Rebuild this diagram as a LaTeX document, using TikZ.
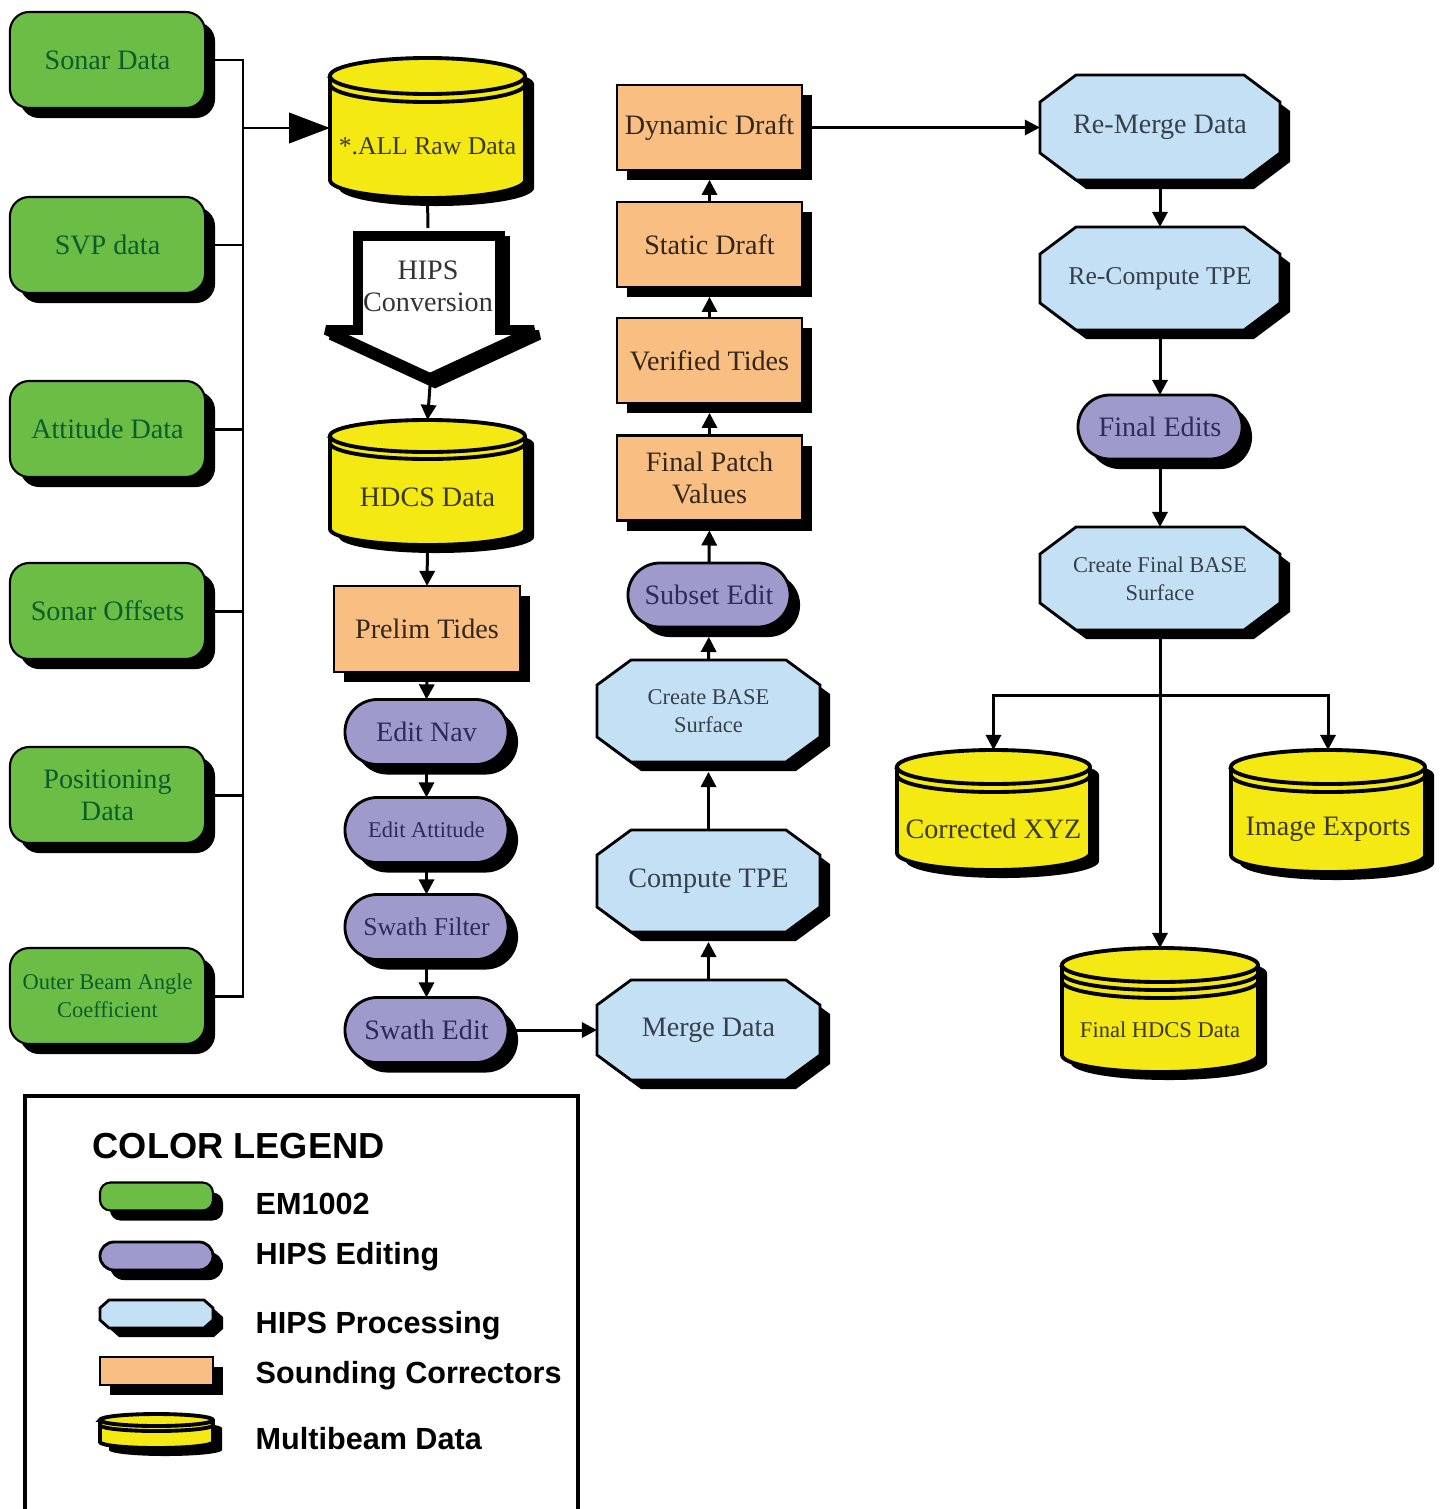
\documentclass[tikz,border=0pt]{standalone}
\usepackage{fontspec}
\setmainfont{Liberation Serif}
\newfontfamily\legfont{Liberation Sans}
\usetikzlibrary{arrows.meta,shapes.misc,shadows,backgrounds}
\definecolor{cgreen}{HTML}{6BBD45}
\definecolor{tgreen}{HTML}{0B5E2C}
\definecolor{cpurple}{HTML}{9E9BCC}
\definecolor{tpurple}{HTML}{2C2B5C}
\definecolor{cblue}{HTML}{C4E0F4}
\definecolor{tblue}{HTML}{36404C}
\definecolor{corange}{HTML}{F8BE82}
\definecolor{torange}{HTML}{33261A}
\definecolor{cyellow}{HTML}{F4E912}
\definecolor{tyellow}{HTML}{3B3913}
\def\PX{0.28453pt}
\newcommand{\fbase}{\fontsize{8}{9.1}\selectfont}
\newcommand{\fmed}{\fontsize{7.3}{8.6}\selectfont}
\newcommand{\fsmall}{\fontsize{6.4}{8}\selectfont}
\newcommand{\octpath}[4]{(-#1+#3,-#2) -- (#1-#3,-#2) -- (#1,-#2+#4) -- (#1,#2-#4) -- (#1-#3,#2) -- (-#1+#3,#2) -- (-#1,#2-#4) -- (-#1,-#2+#4) -- cycle}
\newcommand{\octbox}[9][]{%
  \begin{scope}[shift={(#3,#4)}]
    \begin{scope}[shift={(10,9)}]\fill[black] \octpath{#5}{#6}{#7}{#8};\end{scope}
    \filldraw[fill=cblue,draw=black,line width=0.8pt,line join=miter] \octpath{#5}{#6}{#7}{#8};
  \end{scope}
  \node[octnode,minimum width=2*#5*\PX,minimum height=2*#6*\PX,#1] (#2) at (#3,#4) {#9};}
\newcommand{\cylpath}[3]{(-#1,-#2+#3) -- (-#1,#2-#3) arc[start angle=180,end angle=360,x radius=#1*\PX,y radius=#3*\PX] -- (#1,-#2+#3) arc[start angle=0,end angle=180,x radius=#1*\PX,y radius=#3*\PX] -- cycle}
\newcommand{\cylbox}[8]{%
  \begin{scope}[shift={(#2,#3)}]
    \begin{scope}[shift={(9,8)}]\fill[black] \cylpath{#4}{#5}{#6};\end{scope}
    \filldraw[fill=cyellow,draw=black,line width=1.1pt] \cylpath{#4}{#5}{#6};
    \foreach \k in {0,...,#7}{\draw[line width=1.1pt] (-#4,-#5+#6+\k*#8) arc[start angle=180,end angle=360,x radius=#4*\PX,y radius=#6*\PX];}
  \end{scope}
  \node[cylnode,minimum width=2*#4*\PX,minimum height=2*#5*\PX] (#1) at (#2,#3) {};}
\tikzset{
  base/.style={font=\fbase,align=center,inner sep=0pt,outer sep=0pt},
  shad/.style={drop shadow={shadow xshift=2.85pt,shadow yshift=-2.85pt,fill=black,opacity=1}},
  greenbox/.style={base,shad,rectangle,rounded corners=5.5pt,draw=black,line width=0.6pt,fill=cgreen,text=tgreen,minimum width=195*\PX,minimum height=96*\PX},
  orangebox/.style={base,shad,rectangle,draw=black,line width=0.6pt,fill=corange,text=torange,minimum width=185*\PX,minimum height=85*\PX},
  purplebox/.style={base,shad,rounded rectangle,draw=black,line width=0.8pt,fill=cpurple,text=tpurple,minimum width=163*\PX,minimum height=65*\PX},
  octnode/.style={base,text=tblue,rectangle},
  cylnode/.style={rectangle,inner sep=0pt,outer sep=0pt},
  cyltext/.style={base,text=tyellow},
  conn/.style={line width=0.85pt},
  arr/.style={conn,-{Triangle[length=4.3pt,width=4.3pt]}},
  arrs/.style={arr,shorten >=2.8pt},
  bigarr/.style={conn,-{Triangle[length=11.6pt,width=8.6pt]}},
  legtxt/.style={font=\legfont\bfseries\fontsize{8.7}{10}\selectfont,anchor=base west,inner sep=0pt},
}
\begin{document}
\begin{tikzpicture}[x=0.01cm,y=-0.01cm]
\path[use as bounding box] (0,0) rectangle (1445,1509);
% left column (EM1002)
\node[greenbox] (sonar) at (107.5,60) {Sonar Data};
\node[greenbox] (svp) at (107.5,245) {SVP data};
\node[greenbox] (att) at (107.5,429) {Attitude Data};
\node[greenbox] (soff) at (107.5,611) {Sonar Offsets};
\node[greenbox] (pos) at (107.5,795) {Positioning\\Data};
\node[greenbox,font=\fsmall] (obac) at (107.5,996) {Outer Beam Angle\\Coefficient};
\coordinate (bus) at (243,0);
% raw data
\cylbox{raw}{427.5}{128}{97.5}{70}{18}{1}{8}
\node[cyltext,font=\fmed] (rawt) at (427.5,146) {*.ALL Raw Data};
% HIPS conversion block arrow
\coordinate (hipstop) at (428,228);
\coordinate (hipstip) at (430,386);
\begin{scope}[shift={(5,5)}]
\draw[line width=2.8pt,line join=miter,miter limit=2] (358,236) -- (500,236) -- (500,330) -- (534,330) -- (430,378) -- (326,330) -- (358,330) -- cycle;
\end{scope}
\filldraw[fill=white,draw=black,line width=2.8pt,line join=miter,miter limit=2] (358,236) -- (500,236) -- (500,330) -- (534,330) -- (430,378) -- (326,330) -- (358,330) -- cycle;
\node[base,text=black!80] (hips) at (428,286) {HIPS\\Conversion};
% HDCS
\cylbox{hdcs}{427.5}{482.5}{97.5}{62.5}{16}{1}{7}
\node[cyltext] (hdcst) at (427.5,497) {HDCS Data};
\node[orangebox,minimum width=186*\PX,minimum height=86*\PX] (prelim) at (427,629) {Prelim Tides};
\node[purplebox] (enav) at (426.5,732) {Edit Nav};
\node[purplebox,font=\fsmall] (eatt) at (426.5,830) {Edit Attitude};
\node[purplebox,font=\fmed] (sfil) at (426.5,927) {Swath Filter};
\node[purplebox] (sedit) at (426.5,1030) {Swath Edit};
% middle column
\octbox{merge}{708.5}{1030}{111.5}{50}{34}{25}{Merge Data}
\octbox{ctpe}{708.5}{881}{111.5}{51}{34}{25}{Compute TPE}
\octbox[font=\fsmall]{cbase}{708.5}{711}{111.5}{51}{34}{25}{Create BASE\\Surface}
\node[purplebox,minimum width=162*\PX,minimum height=64*\PX] (subset) at (709,595) {Subset Edit};
\node[orangebox] (fpv) at (709.5,478) {Final Patch\\Values};
\node[orangebox] (vt) at (709.5,360.5) {Verified Tides};
\node[orangebox] (sd) at (709.5,244.5) {Static Draft};
\node[orangebox] (dd) at (709.5,127.5) {Dynamic Draft};
% right column
\octbox{rmerge}{1160}{127.5}{120}{52.5}{36}{27}{Re-Merge Data}
\octbox[font=\fmed]{rtpe}{1160}{278.5}{120}{51.5}{36}{27}{Re-Compute TPE}
\node[purplebox,minimum width=164*\PX,minimum height=64*\PX] (fedit) at (1160,427) {Final Edits};
\octbox[font=\fsmall]{cfbase}{1160}{578.5}{120}{51.5}{36}{27}{Create Final BASE\\Surface}
\cylbox{cxyz}{993.5}{810}{96.5}{60}{17}{1}{8}
\node[cyltext] (cxyzt) at (993.5,829) {Corrected XYZ};
\cylbox{imgx}{1328}{811}{97}{61}{17}{1}{8}
\node[cyltext] (imgxt) at (1328,829) {Image Exports};
\cylbox{fhdcs}{1160}{1010}{98}{62}{17}{2}{8}
\node[cyltext,font=\fsmall] (fhdcst) at (1160,1030) {Final HDCS Data};
\coordinate (split) at (1160,695);
% connectors
\begin{scope}[on background layer]
\draw[conn] (sonar.east) -- (sonar.east -| bus) -- (obac.east -| bus) -- (obac.east);
\foreach \n in {svp,att,soff,pos} \draw[conn] (\n.east) -- (\n.east -| bus);
\draw[bigarr] (raw.west -| bus) -- (raw.west);
\draw[conn] (raw.south) -- (hipstop);
\draw[arr] (hipstip) -- (hdcs.north);
\draw[arr] (hdcs.south) -- (prelim.north);
\draw[arr] (prelim.south) -- (enav.north);
\draw[arr] (enav.south) -- (eatt.north);
\draw[arr] (eatt.south) -- (sfil.north);
\draw[arr] (sfil.south) -- (sedit.north);
\draw[arr] (sedit.east) -- (merge.west);
\draw[arrs] (merge.north) -- (ctpe.south);
\draw[arrs] (ctpe.north) -- (cbase.south);
\draw[arrs] (cbase.north) -- (subset.south);
\draw[arrs] (subset.north) -- (fpv.south);
\draw[arrs] (fpv.north) -- (vt.south);
\draw[arrs] (vt.north) -- (sd.south);
\draw[arrs] (sd.north) -- (dd.south);
\draw[arr] (dd.east) -- (rmerge.west);
\draw[arr] (rmerge.south) -- (rtpe.north);
\draw[arr] (rtpe.south) -- (fedit.north);
\draw[arr] (fedit.south) -- (cfbase.north);
\draw[arr] (cfbase.south) -- (fhdcs.north);
\draw[conn] (cfbase.south) -- (split);
\draw[arr] (split) -| (cxyz.north);
\draw[arr] (split) -| (imgx.north);
\end{scope}
% legend
\draw[line width=1pt] (25,1509) -- (25,1096) -- (578,1096) -- (578,1509);
\node[font=\legfont\bfseries\fontsize{10.3}{12}\selectfont,anchor=base west,inner sep=0pt] (legtitle) at (92,1158) {COLOR LEGEND};
\node[greenbox,minimum width=113*\PX,minimum height=28*\PX,rounded corners=3pt] (lg1) at (156.5,1196.5) {};
\node[purplebox,minimum width=113*\PX,minimum height=28*\PX] (lg2) at (156.5,1256) {};
\octbox{lg3}{156.5}{1314}{56.5}{14}{9}{8}{}
\node[orangebox,minimum width=113*\PX,minimum height=28*\PX] (lg4) at (156.5,1371) {};
\cylbox{lg5}{156.5}{1431}{56.5}{17}{6}{1}{5}
\node[legtxt] (l1) at (255,1214) {EM1002};
\node[legtxt] (l2) at (255,1264) {HIPS Editing};
\node[legtxt] (l3) at (255,1333) {HIPS Processing};
\node[legtxt] (l4) at (255,1383) {Sounding Correctors};
\node[legtxt] (l5) at (255,1449) {Multibeam Data};
\end{tikzpicture}
\end{document}
